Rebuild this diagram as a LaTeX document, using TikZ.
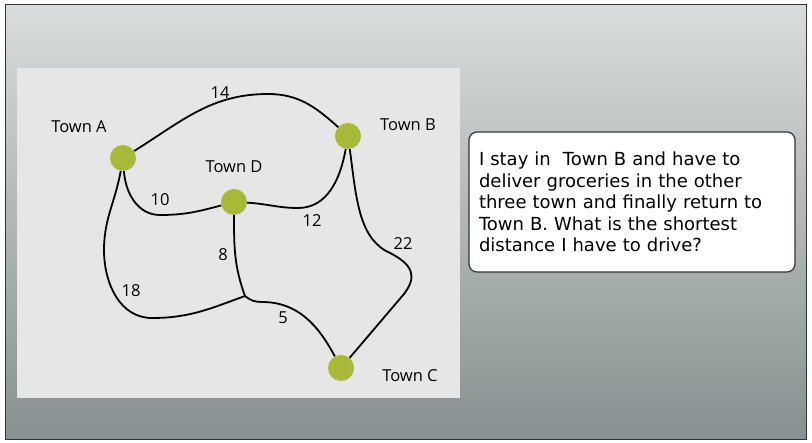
\documentclass[tikz,border=0pt]{standalone}
\usepackage{fontspec}
\setmainfont{Open Sans}
\newfontfamily\notefont{DejaVu Sans}
\usepackage{tikz}
\usetikzlibrary{positioning,calc}
\definecolor{townGreen}{HTML}{A9B838}
\definecolor{panelGray}{HTML}{E6E6E6}
\definecolor{bgTop}{HTML}{D8DCDC}
\definecolor{bgBottom}{HTML}{879090}
\tikzset{%
  town/.style={circle,fill=townGreen,minimum size=26pt,inner sep=0pt},
  road/.style={line width=1.8pt,black},
  label/.style={font=\fontsize{16.5}{19}\selectfont,inner sep=0pt}%
}

\begin{document}
\begin{tikzpicture}[
    x=1pt, y=-1pt,
    dist/.style={font=\fontsize{16.5}{19}\selectfont,inner sep=0pt},
    note/.style={
        draw=black!80,
        line width=1.2pt,
        fill=white,
        rounded corners=8pt,
        align=left,
        text width=306pt,
        minimum height=140pt,
        inner sep=10pt,
        font=\notefont\fontsize{18}{21.5}\selectfont
    }
]
\useasboundingbox (0,0) rectangle (812,443);

% Background
\shade[top color=bgTop, bottom color=bgBottom, draw=black!80, line width=1pt]
    (5,5) rectangle (806,440);
\fill[panelGray] (17,68) rectangle (460,398);

% Towns
\node[town] (A) at (123,158) {};
\node[town] (B) at (348,136) {};
\node[town] (D) at (234,202) {};
\node[town] (C) at (341,368) {};
\coordinate (J) at (245,296);

\node[label] at (79,127) {Town A};
\node[label] at (408,125) {Town B};
\node[label] at (234,167) {Town D};
\node[label] at (410,376) {Town C};

% Roads
\draw[road] (A) to[out=32,in=180] (268,94) to[out=0,in=138] (B);
\draw[road] (A) to[out=-86,in=180] (160,215) to[out=0,in=195] (D);
\draw[road] (D) to[out=-3,in=180] (298,208) to[out=0,in=-100] (B);
\draw[road] (B) .. controls (356,195) and (358,235) .. (386,251)
    .. controls (416,265) and (416,278) .. (404,294) -- (C);
\draw[road] (D) to[out=-90,in=110] (J);
\draw[road] (A) to[out=-100,in=90] (104,250) to[out=-90,in=180] (152,318)
    to[out=0,in=200] (J);
\draw[road] (J) to[out=-40,in=180] (262,302) to[out=0,in=118] (C);

% Distances
\node[dist] at (220,93) {14};
\node[dist] at (160,200) {10};
\node[dist] at (312,221) {12};
\node[dist] at (403,244) {22};
\node[dist] at (223,255) {8};
\node[dist] at (131,291) {18};
\node[dist] at (283,318) {5};

% Question
\node[note] (q) at (632,202) {I stay in\ \ Town B and have to\\
    deliver groceries in the other\\
    three town and finally return to\\
    Town B. What is the shortest\\
    distance I have to drive?};

\end{tikzpicture}
\end{document}
